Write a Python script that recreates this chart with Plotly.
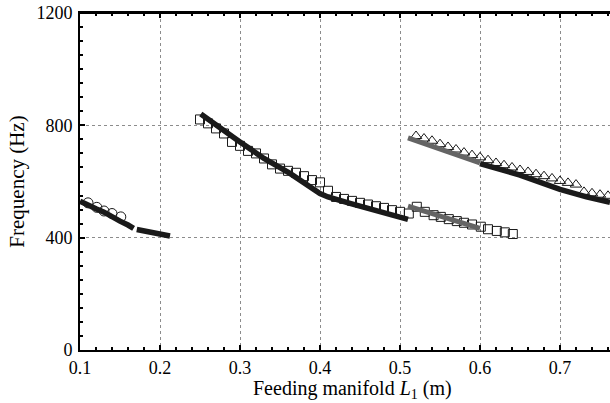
import plotly.graph_objects as go

# Data
circ_x = [0.110, 0.121, 0.130, 0.140, 0.151]
circ_y = [524, 508, 495, 486, 474]

left_line_x = [0.100, 0.110, 0.120, 0.130, 0.140, 0.150, 0.160, 0.167, None, 0.171, 0.180, 0.190, 0.200, 0.2125]
left_line_y = [530, 515, 503, 491, 473, 459, 445, 433, None, 429, 423, 418, 412, 406]

sq_mid_x = [0.25, 0.26, 0.27, 0.28, 0.29, 0.30, 0.31, 0.32, 0.33, 0.34, 0.35, 0.36, 0.37, 0.38,
            0.39, 0.40, 0.41, 0.42, 0.43, 0.44, 0.45, 0.46, 0.47, 0.48, 0.49, 0.50, 0.511]
sq_mid_y = [821, 807, 789, 771, 741, 727, 709, 700, 682, 661, 646, 638, 631, 619,
            605, 597, 567, 545, 538, 531, 524, 518, 512, 506, 498, 492, 486]

mid_line_x = [0.251, 0.275, 0.300, 0.330, 0.3625, 0.400, 0.410, 0.4375, 0.475, 0.510]
mid_line_y = [840, 789, 741, 682, 629, 557, 545, 522, 495, 465]

sq_low_x = [0.521, 0.531, 0.542, 0.551, 0.561, 0.571, 0.580, 0.590, 0.601, 0.610, 0.621, 0.631, 0.641]
sq_low_y = [510, 492, 480, 474, 466, 459, 453, 447, 439, 430, 424, 419, 413]

gray_low_x = [0.510, 0.550, 0.600]
gray_low_y = [512, 475, 433]

tri_x = [0.52, 0.53, 0.54, 0.55, 0.56, 0.57, 0.58, 0.59, 0.60, 0.61, 0.62, 0.63, 0.64,
         0.65, 0.66, 0.67, 0.68, 0.69, 0.70, 0.71, 0.72, 0.73, 0.74, 0.75, 0.76]
tri_y = [762, 753, 745, 733, 723, 714, 703, 694, 686, 676, 666, 658, 650,
         641, 634, 626, 619, 611, 602, 595, 589, 563, 558, 553, 549]

gray_up_x = [0.510, 0.550, 0.600]
gray_up_y = [755, 715, 666]

right_line_x = [0.600, 0.650, 0.700, 0.733, 0.7625]
right_line_y = [664, 623, 572, 545, 526]

BLACK = '#1a1a1a'
GRAY = '#646464'
FONT = 'Liberation Serif'

fig = go.Figure()

# markers first, lines drawn over them
fig.add_trace(go.Scatter(x=circ_x, y=circ_y, mode='markers',
                         marker=dict(symbol='circle-open', size=10, color=BLACK, line=dict(width=1))))
fig.add_trace(go.Scatter(x=sq_mid_x, y=sq_mid_y, mode='markers',
                         marker=dict(symbol='square-open', size=9, color=BLACK, line=dict(width=1))))
fig.add_trace(go.Scatter(x=sq_low_x, y=sq_low_y, mode='markers',
                         marker=dict(symbol='square-open', size=9, color=BLACK, line=dict(width=1))))
fig.add_trace(go.Scatter(x=tri_x, y=tri_y, mode='markers',
                         marker=dict(symbol='triangle-up-open', size=10, color=BLACK, line=dict(width=1))))

fig.add_trace(go.Scatter(x=left_line_x, y=left_line_y, mode='lines',
                         line=dict(color=BLACK, width=5.5)))
fig.add_trace(go.Scatter(x=mid_line_x, y=mid_line_y, mode='lines',
                         line=dict(color=BLACK, width=5.5)))
fig.add_trace(go.Scatter(x=right_line_x, y=right_line_y, mode='lines',
                         line=dict(color=BLACK, width=5.5)))
fig.add_trace(go.Scatter(x=gray_low_x, y=gray_low_y, mode='lines',
                         line=dict(color=GRAY, width=5)))
fig.add_trace(go.Scatter(x=gray_up_x, y=gray_up_y, mode='lines',
                         line=dict(color=GRAY, width=5)))

fig.update_layout(
    width=610, height=403,
    margin=dict(l=80, r=0, t=13, b=53),
    plot_bgcolor='white', paper_bgcolor='white',
    showlegend=False,
    font=dict(family=FONT, size=18, color='black'),
    annotations=[dict(text='Feeding manifold <i>L</i><sub>1</sub> (m)', xref='paper', yref='paper',
                      x=0.515, y=-0.074, xanchor='center', yanchor='top', showarrow=False,
                      font=dict(family=FONT, size=20, color='black'))],
    # top frame edge
    shapes=[dict(type='line', xref='paper', yref='paper', x0=0, x1=1, y0=1, y1=1,
                 line=dict(color='black', width=2))],
)

fig.update_xaxes(
    range=[0.1, 0.7625], tick0=0.1, dtick=0.1, tickformat='.1f',
    showline=True, linecolor='black', linewidth=2, mirror='allticks',
    ticks='inside', ticklen=5, tickwidth=1.5, tickcolor='black',
    showgrid=True, gridcolor='#8c8c8c', griddash='dot', gridwidth=1,
    minor=dict(dtick=0.02, tick0=0.1, ticks='inside', ticklen=3, tickcolor='black', showgrid=False),
    zeroline=False, ticklabelstandoff=0,
)
fig.update_yaxes(
    range=[0, 1200], dtick=400,
    showline=True, linecolor='black', linewidth=2,
    ticks='inside', ticklen=5, tickwidth=1.5, tickcolor='black',
    showgrid=True, gridcolor='#8c8c8c', griddash='dot', gridwidth=1,
    minor=dict(dtick=50, ticks='inside', ticklen=3, tickcolor='black', showgrid=False),
    zeroline=False, ticklabelstandoff=2,
    title=dict(text='Frequency (Hz)', font=dict(family=FONT, size=21), standoff=6),
)

# drop the browser's default 8px body margin so the figure fills the window
fig.write_html('out.html', config={'displayModeBar': False},
               post_script="document.body.style.margin='0';")
